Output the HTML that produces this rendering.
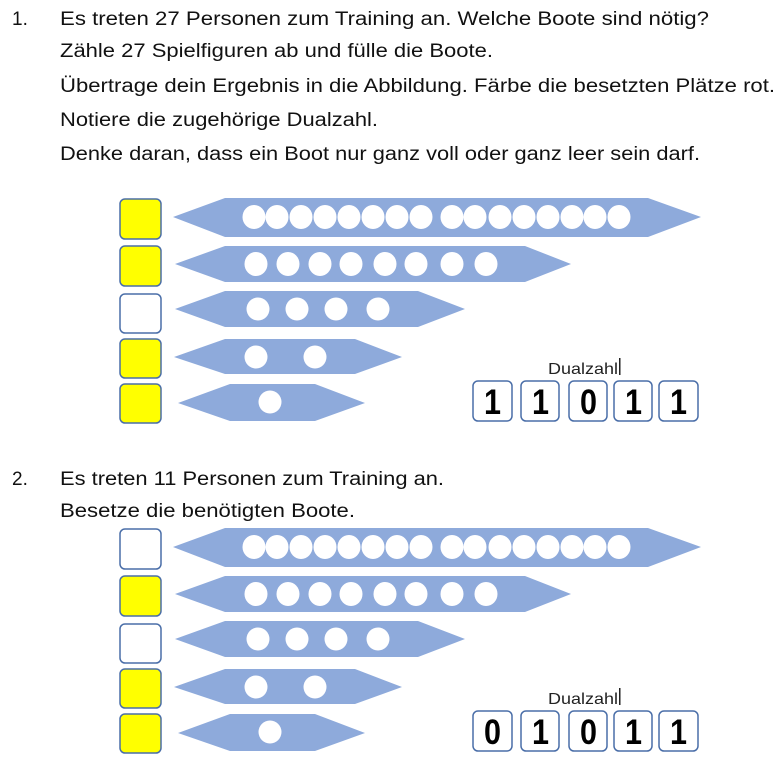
<!DOCTYPE html>
<html><head><meta charset="utf-8"><style>
html,body{margin:0;padding:0;background:#fff;}
svg{display:block;}
text{font-family:"Liberation Sans",sans-serif;}
</style></head><body>
<svg width="784" height="770" viewBox="0 0 784 770" xmlns="http://www.w3.org/2000/svg">
<defs>
<g id="boats">
  <polygon points="173,217 225,198 648,198 701,217 648,237 225,237" fill="#8eaadb"/>
  <polygon points="175,264 225,246 525,246 571,264 525,282 225,282" fill="#8eaadb"/>
  <polygon points="175,309 225,291 418,291 465,309 418,327 225,327" fill="#8eaadb"/>
  <polygon points="174,357 225,339 355,339 402,357 355,374 225,374" fill="#8eaadb"/>
  <polygon points="178,403 230,384 315,384 365,403 315,421 230,421" fill="#8eaadb"/>
  <g fill="#fff">
    <ellipse cx="254" cy="217" rx="11.5" ry="12"/><ellipse cx="277" cy="217" rx="11.5" ry="12"/>
    <ellipse cx="301" cy="217" rx="11.5" ry="12"/><ellipse cx="325" cy="217" rx="11.5" ry="12"/>
    <ellipse cx="349" cy="217" rx="11.5" ry="12"/><ellipse cx="373" cy="217" rx="11.5" ry="12"/>
    <ellipse cx="397" cy="217" rx="11.5" ry="12"/><ellipse cx="421" cy="217" rx="11.5" ry="12"/>
    <ellipse cx="452" cy="217" rx="11.5" ry="12"/><ellipse cx="475" cy="217" rx="11.5" ry="12"/>
    <ellipse cx="500" cy="217" rx="11.5" ry="12"/><ellipse cx="524" cy="217" rx="11.5" ry="12"/>
    <ellipse cx="548" cy="217" rx="11.5" ry="12"/><ellipse cx="572" cy="217" rx="11.5" ry="12"/>
    <ellipse cx="595" cy="217" rx="11.5" ry="12"/><ellipse cx="619" cy="217" rx="11.5" ry="12"/>
    <ellipse cx="256" cy="264" rx="11.5" ry="12"/><ellipse cx="288" cy="264" rx="11.5" ry="12"/>
    <ellipse cx="320" cy="264" rx="11.5" ry="12"/><ellipse cx="351" cy="264" rx="11.5" ry="12"/>
    <ellipse cx="385" cy="264" rx="11.5" ry="12"/><ellipse cx="416" cy="264" rx="11.5" ry="12"/>
    <ellipse cx="452" cy="264" rx="11.5" ry="12"/><ellipse cx="486" cy="264" rx="11.5" ry="12"/>
    <ellipse cx="258" cy="309" rx="11.5" ry="11.5"/><ellipse cx="297" cy="309" rx="11.5" ry="11.5"/>
    <ellipse cx="336" cy="309" rx="11.5" ry="11.5"/><ellipse cx="378" cy="309" rx="11.5" ry="11.5"/>
    <ellipse cx="256" cy="357" rx="11.5" ry="11.5"/><ellipse cx="315" cy="357" rx="11.5" ry="11.5"/>
    <ellipse cx="270" cy="402" rx="11.5" ry="11.5"/>
  </g>
  <text x="548" y="374" font-size="16" fill="#222" textLength="70" lengthAdjust="spacingAndGlyphs">Dualzahl</text>
  <rect x="619" y="358" width="1.5" height="17" fill="#222"/>
  <g fill="#fff" stroke="#4a6ea8" stroke-width="1.5">
    <rect x="473" y="381" width="39" height="40" rx="5"/>
    <rect x="521" y="381" width="38" height="40" rx="5"/>
    <rect x="569" y="381" width="38" height="40" rx="5"/>
    <rect x="614" y="381" width="38" height="40" rx="5"/>
    <rect x="659" y="381" width="39" height="40" rx="5"/>
  </g>
</g>
</defs>

<g font-size="19" fill="#111">
  <text x="12" y="25">1.</text>
  <text x="60" y="25" textLength="649" lengthAdjust="spacingAndGlyphs">Es treten 27 Personen zum Training an. Welche Boote sind nötig?</text>
  <text x="60" y="57" textLength="433" lengthAdjust="spacingAndGlyphs">Zähle 27 Spielfiguren ab und fülle die Boote.</text>
  <text x="60" y="92" textLength="715" lengthAdjust="spacingAndGlyphs">Übertrage dein Ergebnis in die Abbildung. Färbe die besetzten Plätze rot.</text>
  <text x="60" y="126" textLength="318" lengthAdjust="spacingAndGlyphs">Notiere die zugehörige Dualzahl.</text>
  <text x="60" y="160" textLength="640" lengthAdjust="spacingAndGlyphs">Denke daran, dass ein Boot nur ganz voll oder ganz leer sein darf.</text>
  <text x="12" y="485">2.</text>
  <text x="60" y="485" textLength="384" lengthAdjust="spacingAndGlyphs">Es treten 11 Personen zum Training an.</text>
  <text x="60" y="517" textLength="295" lengthAdjust="spacingAndGlyphs">Besetze die benötigten Boote.</text>
</g>

<use href="#boats"/>
<g stroke="#4a6ea8" stroke-width="1.5">
  <rect x="120" y="199" width="41" height="40" rx="5" fill="#ffff00"/>
  <rect x="120" y="246" width="41" height="40" rx="5" fill="#ffff00"/>
  <rect x="120" y="294" width="41" height="39" rx="5" fill="#fff"/>
  <rect x="120" y="339" width="41" height="39" rx="5" fill="#ffff00"/>
  <rect x="120" y="384" width="41" height="39" rx="5" fill="#ffff00"/>
</g>
<g font-size="35" font-weight="bold" fill="#000">
  <text x="484" y="414" textLength="17" lengthAdjust="spacingAndGlyphs">1</text>
  <text x="532" y="414" textLength="17" lengthAdjust="spacingAndGlyphs">1</text>
  <text x="580" y="414" textLength="17" lengthAdjust="spacingAndGlyphs">0</text>
  <text x="625" y="414" textLength="17" lengthAdjust="spacingAndGlyphs">1</text>
  <text x="670" y="414" textLength="17" lengthAdjust="spacingAndGlyphs">1</text>
</g>

<use href="#boats" y="330"/>
<g stroke="#4a6ea8" stroke-width="1.5" transform="translate(0,330)">
  <rect x="120" y="199" width="41" height="40" rx="5" fill="#fff"/>
  <rect x="120" y="246" width="41" height="40" rx="5" fill="#ffff00"/>
  <rect x="120" y="294" width="41" height="39" rx="5" fill="#fff"/>
  <rect x="120" y="339" width="41" height="39" rx="5" fill="#ffff00"/>
  <rect x="120" y="384" width="41" height="39" rx="5" fill="#ffff00"/>
</g>
<g font-size="35" font-weight="bold" fill="#000" transform="translate(0,330)">
  <text x="484" y="414" textLength="17" lengthAdjust="spacingAndGlyphs">0</text>
  <text x="532" y="414" textLength="17" lengthAdjust="spacingAndGlyphs">1</text>
  <text x="580" y="414" textLength="17" lengthAdjust="spacingAndGlyphs">0</text>
  <text x="625" y="414" textLength="17" lengthAdjust="spacingAndGlyphs">1</text>
  <text x="670" y="414" textLength="17" lengthAdjust="spacingAndGlyphs">1</text>
</g>
</svg>
</body></html>
